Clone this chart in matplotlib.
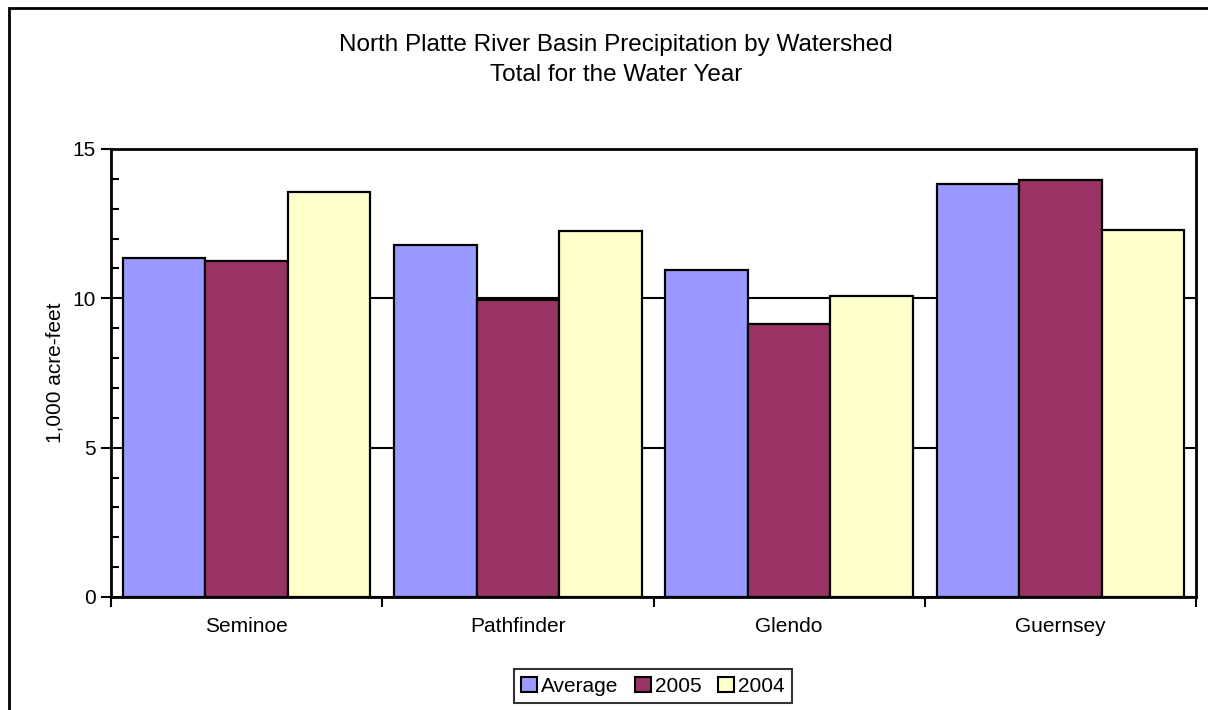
import matplotlib
matplotlib.use("Agg")
import matplotlib.pyplot as plt
from matplotlib.patches import Rectangle, Patch
import numpy as np

plt.rcParams['font.family'] = ['Liberation Sans', 'DejaVu Sans']

categories = ["Seminoe", "Pathfinder", "Glendo", "Guernsey"]
series_names = ["Average", "2005", "2004"]
average = [11.35, 11.77, 10.95, 13.84]
y2005 = [11.25, 9.96, 9.15, 13.96]
y2004 = [13.57, 12.27, 10.07, 12.30]
colors = ["#9999FF", "#993366", "#FFFFCC"]
yticks = [0, 5, 10, 15]

W, H = 1208, 710
fig = plt.figure(figsize=(W / 100, H / 100), dpi=100)
ax = fig.add_axes([111 / W, 1 - 597 / H, (1196 - 111) / W, (597 - 149) / H])

x = np.arange(len(categories))
bw = 0.304
for i, (vals, c) in enumerate(zip([average, y2005, y2004], colors)):
    ax.bar(x + (i - 1) * bw, vals, width=bw, color=c, edgecolor="black",
           linewidth=1.6, zorder=3)

ax.set_xlim(-0.5, len(categories) - 0.5)
ax.set_ylim(0, 15)
ax.set_yticks(yticks)
ax.set_yticklabels([str(t) for t in yticks], fontsize=15)
ax.set_yticks(np.arange(0, 16, 1), minor=True)
ax.tick_params(axis='y', which='major', direction='out', length=7, width=1.5, pad=4)
ax.tick_params(axis='y', which='minor', direction='in', length=6, width=1.5)
ax.set_xticks(np.arange(-0.5, len(categories), 1))
ax.set_xticklabels([])
ax.tick_params(axis='x', which='major', direction='out', length=7, width=1.5)
for xi, cat in zip(x, categories):
    ax.text(xi, -1.0, cat, ha='center', va='center', fontsize=15,
            transform=ax.transData)
ax.grid(axis='y', which='major', color='black', linewidth=1.5, zorder=1)
for s in ax.spines.values():
    s.set_linewidth(2)
    s.set_color('black')
ax.set_ylabel("1,000 acre-feet", fontsize=15, labelpad=6)

fig.text(616 / W, 1 - 45 / H, "North Platte River Basin Precipitation by Watershed",
         ha='center', va='center', fontsize=17.5)
fig.text(616 / W, 1 - 75 / H, "Total for the Water Year",
         ha='center', va='center', fontsize=17.5)

handles = [Patch(facecolor=c, edgecolor='black', linewidth=1.5) for c in colors]
leg = fig.legend(handles, series_names, loc='center', bbox_to_anchor=(653 / W, 1 - 686 / H),
                 ncol=3, fontsize=15, frameon=True, fancybox=False, edgecolor='black',
                 handlelength=0.75, handleheight=0.75, handletextpad=0.2,
                 columnspacing=0.8, borderpad=0.35, borderaxespad=0)
leg.get_frame().set_linewidth(1.5)

fig.add_artist(Rectangle((9 / W, -0.1), 1.2, 1 - 8 / H + 0.1, transform=fig.transFigure,
                         fill=False, edgecolor='black', linewidth=2, clip_on=False))

fig.savefig("out.png", dpi=100)
